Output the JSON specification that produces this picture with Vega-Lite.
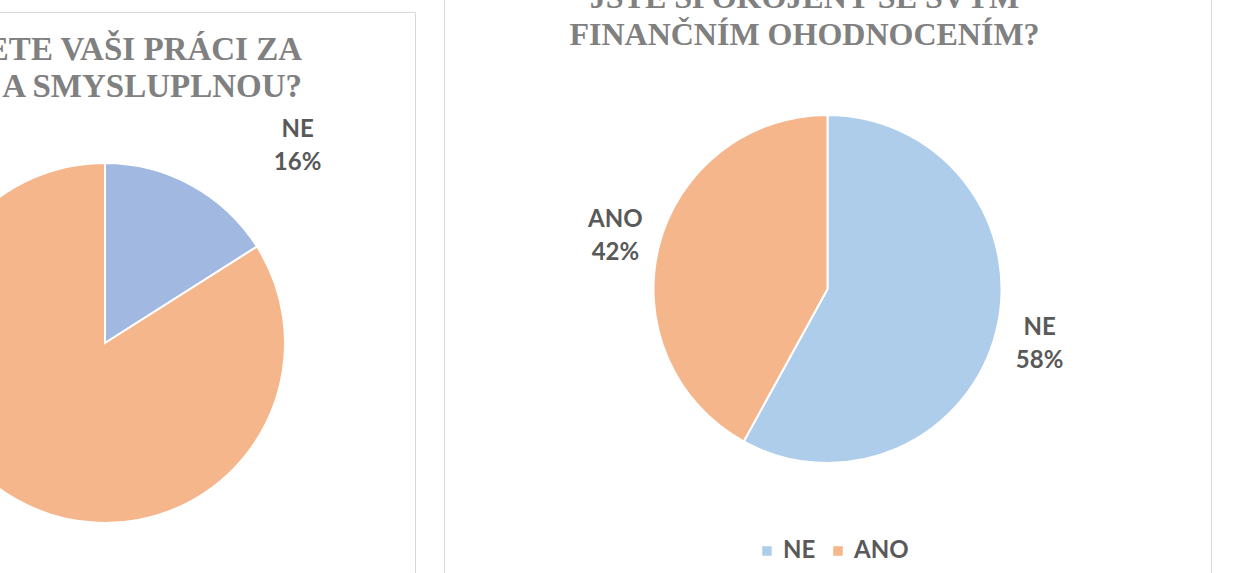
{
  "$schema": "https://vega.github.io/schema/vega-lite/v6.json",
  "padding": {"left": -207, "top": -30, "right": 0, "bottom": 0},
  "background": "white",
  "config": {"view": {"stroke": "#d9d9d9", "strokeWidth": 1}, "font": "Lato"},
  "datasets": {
    "q1": [
      {"odpoved": "NE", "podil": 0.16, "poradi": 1},
      {"odpoved": "ANO", "podil": 0.84, "poradi": 2}
    ],
    "q2": [
      {"odpoved": "NE", "podil": 0.58, "poradi": 1},
      {"odpoved": "ANO", "podil": 0.42, "poradi": 2}
    ]
  },
  "spacing": 27,
  "resolve": {"scale": {"color": "independent"}, "legend": {"color": "independent"}},
  "hconcat": [
    {
      "spacing": 0,
      "vconcat": [
        {
          "width": 620,
          "height": 40,
          "data": {"values": [{}]},
          "mark": {"type": "text"},
          "encoding": {"text": {"value": " "}},
          "view": {"stroke": null}
        },
        {
          "width": 620,
          "height": 662,
          "data": {"name": "q1"},
          "view": {"stroke": "#d9d9d9", "strokeWidth": 1},
          "title": {
            "text": ["POVAŽUJETE VAŠI PRÁCI ZA", "ZAJÍMAVOU A SMYSLUPLNOU?"],
            "anchor": "end",
            "align": "right",
            "dx": -113,
            "offset": -118,
            "baseline": "alphabetic",
            "frame": "group",
            "font": "Liberation Serif",
            "fontSize": 33,
            "fontWeight": "bold",
            "color": "#808080",
            "lineHeight": 37
          },
          "encoding": {
            "theta": {"field": "podil", "type": "quantitative", "stack": true},
            "order": {"field": "poradi", "type": "quantitative"}
          },
          "layer": [
            {
              "mark": {"type": "arc", "outerRadius": 180, "stroke": "white", "strokeWidth": 2},
              "encoding": {
                "color": {
                  "field": "odpoved",
                  "type": "nominal",
                  "scale": {"domain": ["NE", "ANO"], "range": ["#a1b8e1", "#f5b68c"]},
                  "legend": null
                }
              }
            },
            {
              "mark": {"type": "text", "radius": 240, "dx": 77, "dy": -3, "fontSize": 24, "fontWeight": "bold", "color": "#595959", "font": "Lato"},
              "encoding": {
                "detail": {"field": "odpoved"},
                "text": {"field": "odpoved", "type": "nominal"},
                "opacity": {"condition": {"test": "datum.odpoved === 'NE'", "value": 1}, "value": 0}
              }
            },
            {
              "mark": {"type": "text", "radius": 240, "dx": 77, "dy": 30, "fontSize": 24, "fontWeight": "bold", "color": "#595959", "font": "Lato"},
              "encoding": {
                "detail": {"field": "odpoved"},
                "text": {"field": "podil", "type": "quantitative", "format": ".0%"},
                "opacity": {"condition": {"test": "datum.odpoved === 'NE'", "value": 1}, "value": 0}
              }
            }
          ]
        }
      ]
    },
    {
      "width": 767,
      "height": 636,
      "data": {"name": "q2"},
      "view": {"stroke": "#d9d9d9", "strokeWidth": 1},
      "title": {
        "text": ["JSTE SPOKOJENÝ SE SVÝM", "FINANČNÍM OHODNOCENÍM?"],
        "anchor": "middle",
        "dx": -23,
        "offset": -106,
        "baseline": "alphabetic",
        "frame": "group",
        "font": "Liberation Serif",
        "fontSize": 32,
        "fontWeight": "bold",
        "color": "#808080",
        "lineHeight": 37
      },
      "encoding": {
        "theta": {"field": "podil", "type": "quantitative", "stack": true},
        "order": {"field": "poradi", "type": "quantitative"}
      },
      "layer": [
        {
          "mark": {"type": "arc", "outerRadius": 174, "stroke": "white", "strokeWidth": 2},
          "encoding": {
            "color": {
              "field": "odpoved",
              "type": "nominal",
              "scale": {"domain": ["NE", "ANO"], "range": ["#aecdeb", "#f5b68c"]},
              "legend": {
                "orient": "none",
                "legendX": 311,
                "legendY": 568,
                "direction": "horizontal",
                "title": null,
                "padding": 0,
                "symbolType": "square",
                "symbolSize": 90,
                "symbolStrokeWidth": 0,
                "labelFont": "Lato",
                "labelFontSize": 24,
                "labelFontWeight": "bold",
                "labelColor": "#595959",
                "labelOffset": 4,
                "columnPadding": 10
              }
            }
          }
        },
        {
          "mark": {"type": "text", "radius": 219, "dy": -15, "fontSize": 24, "fontWeight": "bold", "color": "#595959", "font": "Lato"},
          "encoding": {
            "detail": {"field": "odpoved"},
            "text": {"field": "odpoved", "type": "nominal"}
          }
        },
        {
          "mark": {"type": "text", "radius": 219, "dy": 18, "fontSize": 24, "fontWeight": "bold", "color": "#595959", "font": "Lato"},
          "encoding": {
            "detail": {"field": "odpoved"},
            "text": {"field": "podil", "type": "quantitative", "format": ".0%"}
          }
        }
      ]
    }
  ]
}
